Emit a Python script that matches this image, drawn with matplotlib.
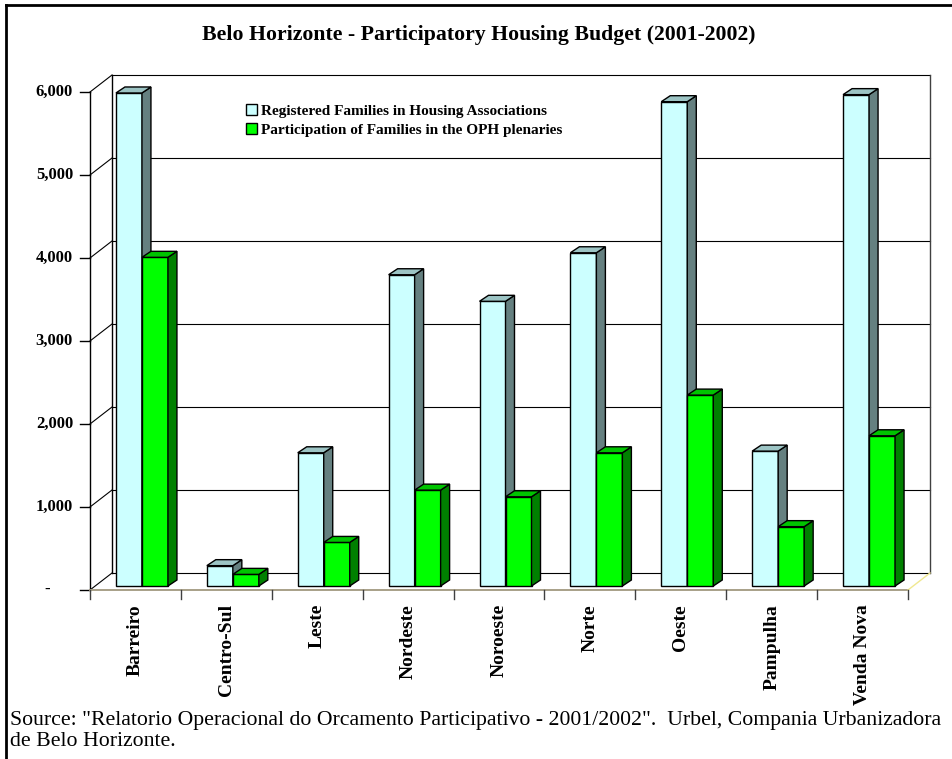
import matplotlib
matplotlib.use('Agg')
import matplotlib.pyplot as plt
from matplotlib.patches import Polygon, Patch
from matplotlib.lines import Line2D

plt.rcParams['font.family'] = ['Liberation Serif', 'DejaVu Serif']

# ---------------- data ----------------
categories = ['Barreiro', 'Centro-Sul', 'Leste', 'Nordeste', 'Noroeste',
              'Norte', 'Oeste', 'Pampulha', 'Venda Nova']
registered = [5940, 245, 1605, 3750, 3430, 4015, 5835, 1625, 5920]
participation = [3960, 140, 525, 1155, 1075, 1605, 2300, 715, 1810]
series_names = ['Registered Families in Housing Associations',
                'Participation of Families in the OPH plenaries']
yticks = [0, 1000, 2000, 3000, 4000, 5000, 6000]
ytick_labels = ['-', '1,000', '2,000', '3,000', '4,000', '5,000', '6,000']
title = 'Belo Horizonte - Participatory Housing Budget (2001-2002)'
source_lines = ['Source: "Relatorio Operacional do Orcamento Participativo - 2001/2002".  Urbel, Compania Urbanizadora',
                'de Belo Horizonte.']

# ---------------- layout ----------------
W, H = 952, 759
fig = plt.figure(figsize=(W / 100, H / 100), dpi=100)
L, R, B, T = 90, 908, 590, 92
ax = fig.add_axes([L / W, 1 - B / H, (R - L) / W, (B - T) / H])
n = len(categories)
ax.set_xlim(-0.5, n - 0.5)
ax.set_ylim(0, 6000)
ax.axis('off')

cx = n / (R - L)          # category units per pixel
cy = 6000 / (B - T)       # value units per pixel
xl, xr = -0.5, n - 0.5
wx, wy = 22 * cx, 17 * cy  # wall depth offset

grid_c = 'black'
# back wall gridlines + left wall diagonals
for v in yticks:
    ax.plot([xl + wx, xr + wx], [v + wy, v + wy], color=grid_c, lw=0.8,
            clip_on=False, zorder=1)
    ax.plot([xl, xl + wx], [v, v + wy], color=grid_c, lw=0.8,
            clip_on=False, zorder=1)
# wall edges
ax.plot([xl + wx, xl + wx], [wy, 6000 + wy], color='black', lw=1.0, clip_on=False, zorder=1)
ax.plot([xr + wx, xr + wx], [wy, 6000 + wy], color='#404040', lw=1.0, clip_on=False, zorder=1)
# front value axis
ax.plot([xl, xl], [0, 6000], color='black', lw=1.0, clip_on=False, zorder=2)
for v, lab in zip(yticks, ytick_labels):
    ax.plot([xl - 10 * cx, xl], [v, v], color='black', lw=1.0, clip_on=False, zorder=2)
    if v == 0:
        ax.text(xl - 43 * cx, v, lab, ha='center', va='center', fontsize=12,
                fontweight='bold')
    else:
        ax.text(xl - 17 * cx, v, lab, ha='right', va='center', fontsize=12,
                fontweight='bold')
# floor front edge + right diagonal
ax.plot([xl, xr], [0, 0], color='#a8a088', lw=1.4, clip_on=False, zorder=2)
ax.plot([xr, xr + wx], [0, wy], color='#f0e890', lw=1.0, clip_on=False, zorder=2)
# category ticks
for k in range(n + 1):
    ax.plot([xl + k, xl + k], [0, -9 * cy], color='#404040', lw=1.0, clip_on=False, zorder=2)
# category labels
for i, c in enumerate(categories):
    ax.text(i, -14 * cy, c, rotation=90, ha='center', va='top', fontsize=14,
            fontweight='bold')

# ---------------- 3D-style bars ----------------
bw = 26 * cx
gshift = 6.5 * cx
base = 4 * cy
dx, dy = 9 * cx, 6 * cy
styles = [('#CCFFFF', '#9CC4C4', '#658080'),
          ('#00FF00', '#00C400', '#008000')]
xs = [i + gshift for i in range(n)]
for s, (vals, (fc, tc, sc)) in enumerate(zip([registered, participation], styles)):
    centers = [x - bw / 2 if s == 0 else x + bw / 2 for x in xs]
    z = 3 + s
    ax.bar(centers, vals, width=bw, bottom=base, color=fc, edgecolor='black',
           linewidth=1.0, zorder=z, clip_on=False)
    for c, v in zip(centers, vals):
        x0, x1 = c - bw / 2, c + bw / 2
        y0, y1 = base, base + v
        top = Polygon([(x0, y1), (x0 + dx, y1 + dy), (x1 + dx, y1 + dy), (x1, y1)],
                      closed=True, facecolor=tc, edgecolor='black', lw=1.0,
                      zorder=z, clip_on=False)
        side = Polygon([(x1, y0), (x1, y1), (x1 + dx, y1 + dy), (x1 + dx, y0 + dy)],
                       closed=True, facecolor=sc, edgecolor='black', lw=1.0,
                       zorder=z, clip_on=False)
        ax.add_patch(side)
        ax.add_patch(top)

# ---------------- legend ----------------
handles = [Patch(facecolor=st[0], edgecolor='black', lw=1.0) for st in styles]
fig.legend(handles, series_names, loc='upper left',
           bbox_to_anchor=(246 / W, 1 - 104 / H), frameon=False,
           handlelength=0.75, handleheight=0.75, handletextpad=0.25,
           labelspacing=0.32, borderpad=0, borderaxespad=0,
           prop={'weight': 'bold', 'size': 11})

# ---------------- texts ----------------
fig.text(479 / W, 1 - 35 / H, title, ha='center', va='center', fontsize=15.7,
         fontweight='bold')
fig.text(10 / W, 1 - 720 / H, source_lines[0], ha='left', va='center', fontsize=15.7)
fig.text(10 / W, 1 - 742 / H, source_lines[1], ha='left', va='center', fontsize=15.7)

# ---------------- frame ----------------
fig.add_artist(Line2D([6 / W, 1], [1 - 5 / H, 1 - 5 / H], color='black', lw=2,
                      transform=fig.transFigure))
fig.add_artist(Line2D([6 / W, 6 / W], [0, 1 - 5 / H], color='black', lw=2,
                      transform=fig.transFigure))

fig.savefig('out.png', dpi=100)
